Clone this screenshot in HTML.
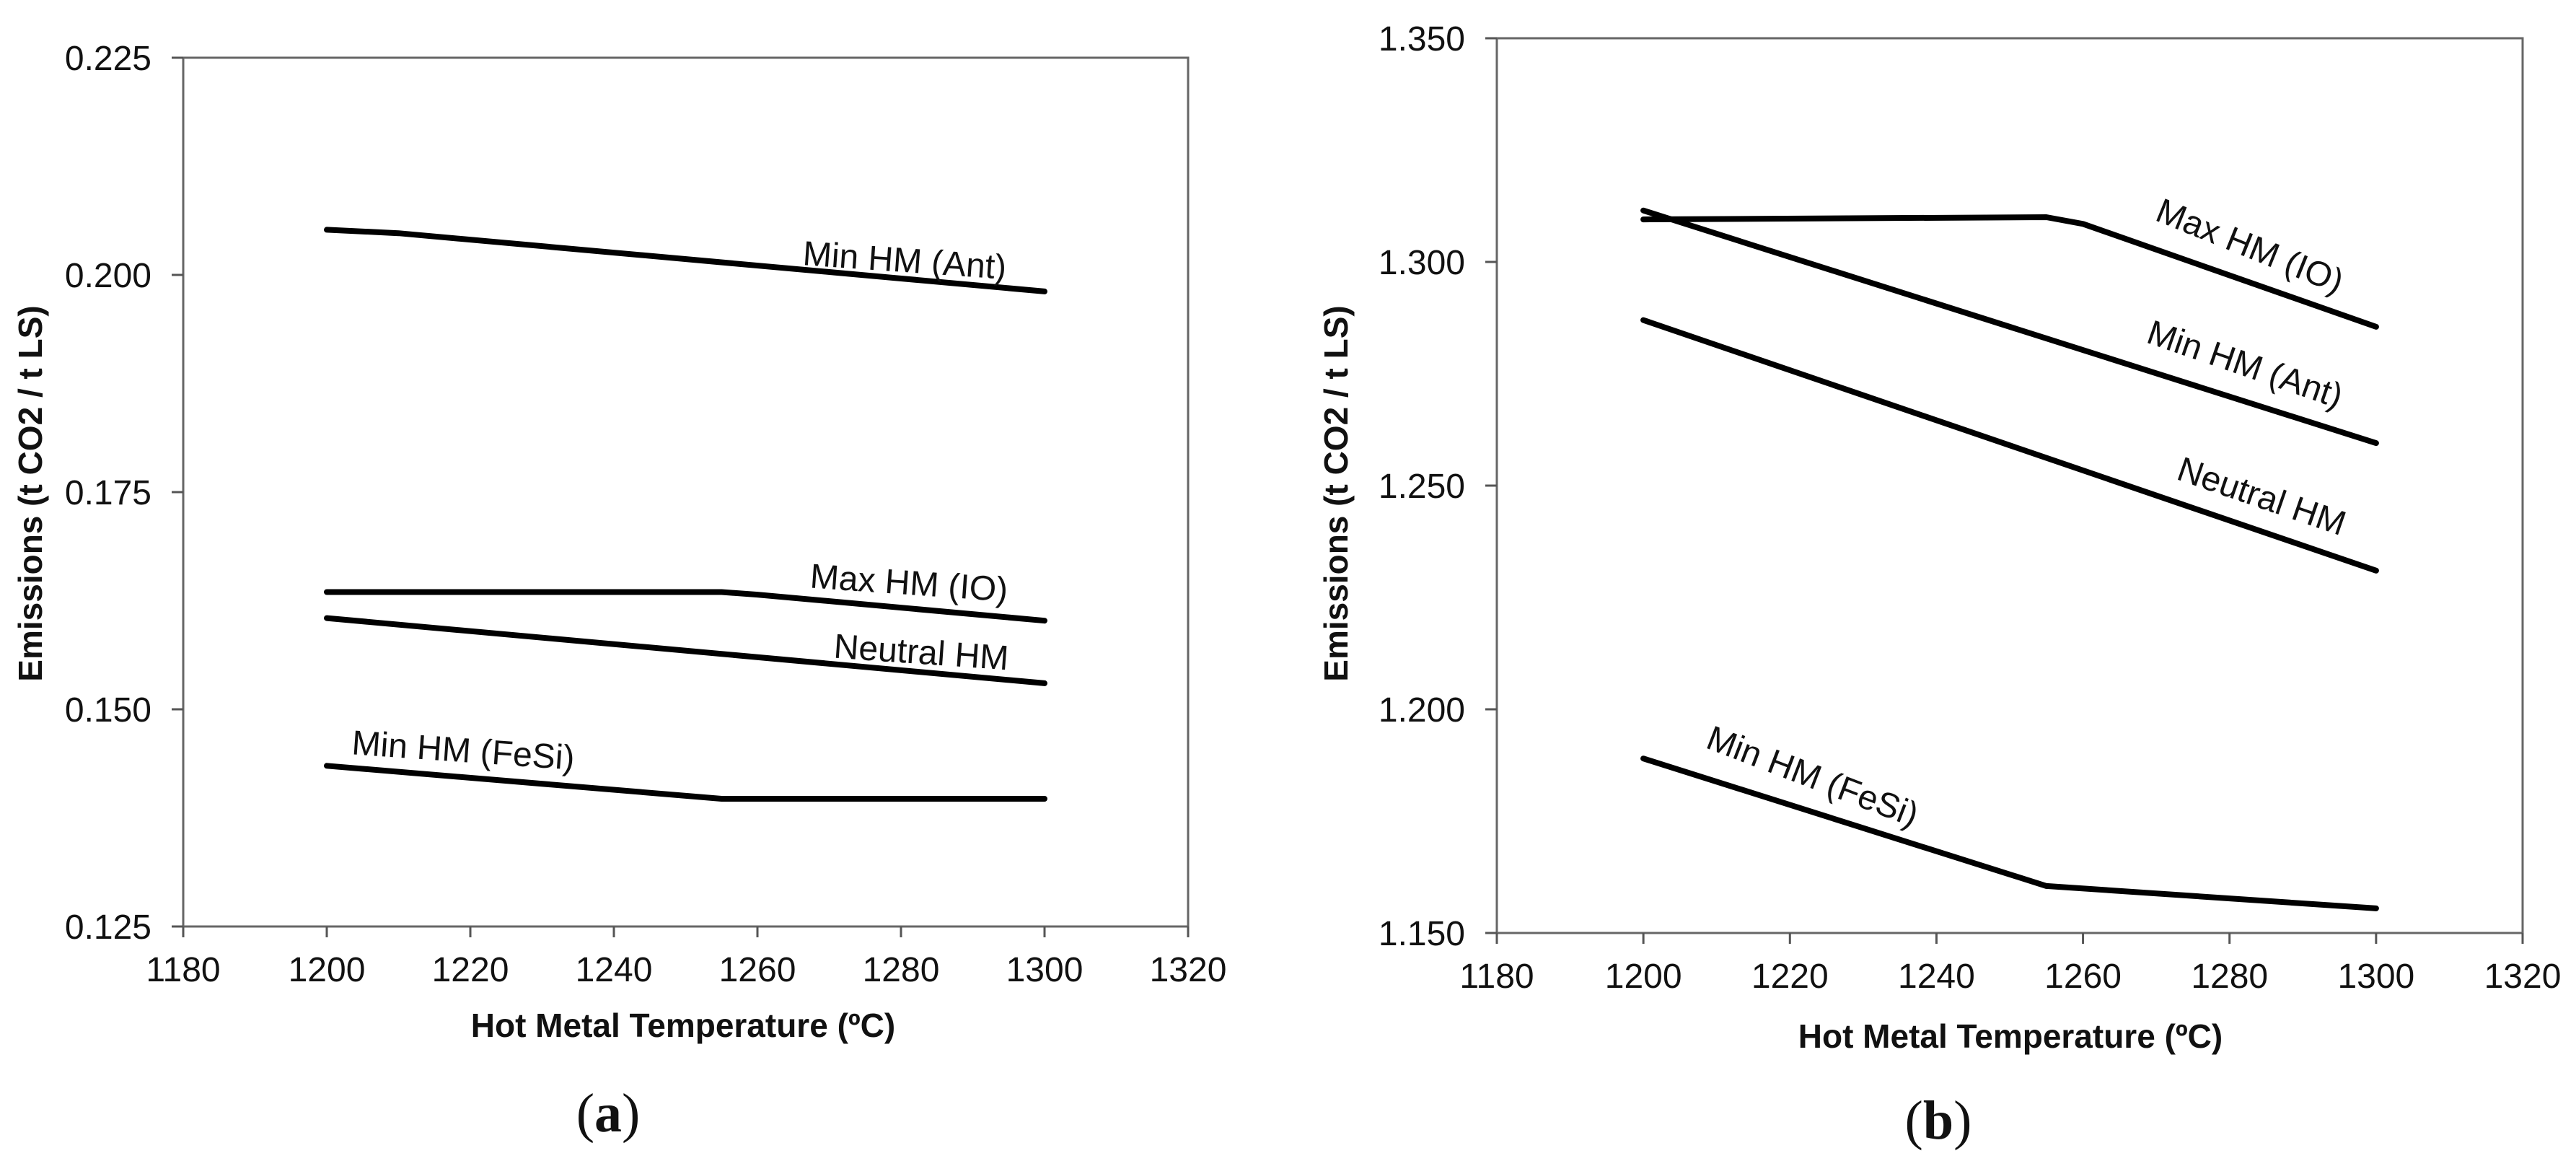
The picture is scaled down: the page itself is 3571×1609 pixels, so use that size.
<!DOCTYPE html>
<html><head><meta charset="utf-8"><style>
html,body{margin:0;padding:0;background:#fff;}
svg{display:block;}
text{font-family:"Liberation Sans",Arial,sans-serif;fill:#111;}
.tick{font-size:48px;}
.lab{font-size:48px;}
.title{font-size:46px;font-weight:bold;}
.cap{font-family:"Liberation Serif",serif;font-size:76px;}
</style></head><body>
<svg id="chart" width="3571" height="1609" viewBox="0 0 3571 1609" xmlns="http://www.w3.org/2000/svg"></svg>
<script>
const xTicks = [1180, 1200, 1220, 1240, 1260, 1280, 1300, 1320];
const yTicksA = [0.125, 0.150, 0.175, 0.200, 0.225];
const yTicksB = [1.150, 1.200, 1.250, 1.300, 1.350];

const aAntX = [1200, 1210, 1300];
const aAntY = [0.2052, 0.2048, 0.1981];
const aIoX = [1200, 1255, 1260, 1300];
const aIoY = [0.1635, 0.1635, 0.1632, 0.1602];
const aNeuX = [1200, 1300];
const aNeuY = [0.1605, 0.1530];
const aFesiX = [1200, 1255, 1300];
const aFesiY = [0.1435, 0.1397, 0.1397];

const bIoX = [1200, 1255, 1260, 1300];
const bIoY = [1.3095, 1.3100, 1.3085, 1.2855];
const bAntX = [1200, 1300];
const bAntY = [1.3115, 1.2595];
const bNeuX = [1200, 1300];
const bNeuY = [1.2870, 1.2310];
const bFesiX = [1200, 1255, 1300];
const bFesiY = [1.1890, 1.1605, 1.1555];

const NS = "http://www.w3.org/2000/svg";
const svg = document.getElementById('chart');
function mk(tag, attrs, parent) {
  const e = document.createElementNS(NS, tag);
  for (const k in attrs) e.setAttribute(k, attrs[k]);
  (parent || svg).appendChild(e);
  return e;
}

function panel(cfg) {
  const g = mk('g', {});
  
  
  const sx = v => cfg.x0 + (v - 1180) / 140 * (cfg.x1 - cfg.x0);
  const sy = v => cfg.y1 - (v - cfg.ymin) / (cfg.ymax - cfg.ymin) * (cfg.y1 - cfg.y0);
  const frame = mk('rect', {x: cfg.x0, y: cfg.y0, width: cfg.x1 - cfg.x0, height: cfg.y1 - cfg.y0, fill: 'none', stroke: '#666', 'stroke-width': 3}, g);
  
  
  cfg.yTicks.forEach(v => {
    const y = sy(v);
    const tm = mk('line', {x1: cfg.x0 - 16, x2: cfg.x0, y1: y, y2: y, stroke: '#555', 'stroke-width': 3}, g);
    
    
    const t = mk('text', {x: cfg.x0 - 44, y: y + 17, 'text-anchor': 'end', class: 'tick'}, g);
    t.textContent = v.toFixed(3);
    
    
  });
  xTicks.forEach(v => {
    const x = sx(v);
    const tm = mk('line', {x1: x, x2: x, y1: cfg.y1, y2: cfg.y1 + 15, stroke: '#555', 'stroke-width': 3}, g);
    
    
    const t = mk('text', {x: x, y: cfg.y1 + 76, 'text-anchor': 'middle', class: 'tick'}, g);
    t.textContent = v;
    
    
  });
  cfg.series.forEach(s => {
    const pts = s.xs.map((x, i) => sx(x).toFixed(1) + ',' + sy(s.ys[i]).toFixed(1)).join(' ');
    const pl = mk('polyline', {points: pts, fill: 'none', stroke: '#000', 'stroke-width': 8, 'stroke-linejoin': 'round', 'stroke-linecap': 'round'}, g);
    
    
    const t = mk('text', {x: s.lx, y: s.ly, 'text-anchor': 'middle', class: 'lab', transform: 'rotate(' + s.rot + ' ' + s.lx + ' ' + s.ly + ')'}, g);
    t.textContent = s.label;
    
    
  });
  const yt = mk('text', {x: cfg.ytx, y: 684, 'text-anchor': 'middle', class: 'title', transform: 'rotate(-90 ' + cfg.ytx + ' 684)'}, g);
  yt.textContent = 'Emissions (t CO2  /  t LS)';
  
  
  const xt = mk('text', {x: cfg.xtx, y: cfg.xty, 'text-anchor': 'middle', class: 'title'}, g);
  xt.textContent = 'Hot Metal Temperature (ºC)';
  
  
  const cap = mk('text', {x: cfg.capx, y: cfg.capy, 'text-anchor': 'middle', class: 'cap'}, g);
  cap.innerHTML = '(<tspan font-weight="bold">' + cfg.cap + '</tspan>)';
  
  
}

panel({name: 'panel-a', x0: 254, x1: 1647, y0: 80, y1: 1284, ymin: 0.125, ymax: 0.225, yTicks: yTicksA,
  ytx: 58, xtx: 947, xty: 1437, capx: 843, capy: 1568, cap: 'a',
  series: [
    {name: 'line-min-hm-ant', xs: aAntX, ys: aAntY, label: 'Min HM (Ant)', lx: 1253, ly: 377, rot: 4},
    {name: 'line-max-hm-io', xs: aIoX, ys: aIoY, label: 'Max HM (IO)', lx: 1259, ly: 824, rot: 4},
    {name: 'line-neutral-hm', xs: aNeuX, ys: aNeuY, label: 'Neutral HM', lx: 1276, ly: 920, rot: 4},
    {name: 'line-min-hm-fesi', xs: aFesiX, ys: aFesiY, label: 'Min HM (FeSi)', lx: 641, ly: 1056, rot: 4}
  ]});

panel({name: 'panel-b', x0: 2075, x1: 3497, y0: 53, y1: 1293, ymin: 1.150, ymax: 1.350, yTicks: yTicksB,
  ytx: 1868, xtx: 2787, xty: 1452, capx: 2687, capy: 1578, cap: 'b',
  series: [
    {name: 'line-max-hm-io', xs: bIoX, ys: bIoY, label: 'Max HM (IO)', lx: 3113, ly: 356, rot: 22},
    {name: 'line-min-hm-ant', xs: bAntX, ys: bAntY, label: 'Min HM (Ant)', lx: 3107, ly: 520, rot: 19},
    {name: 'line-neutral-hm', xs: bNeuX, ys: bNeuY, label: 'Neutral HM', lx: 3130, ly: 703, rot: 19},
    {name: 'line-min-hm-fesi', xs: bFesiX, ys: bFesiY, label: 'Min HM (FeSi)', lx: 2507, ly: 1091, rot: 21}
  ]});
</script>
</body></html>
